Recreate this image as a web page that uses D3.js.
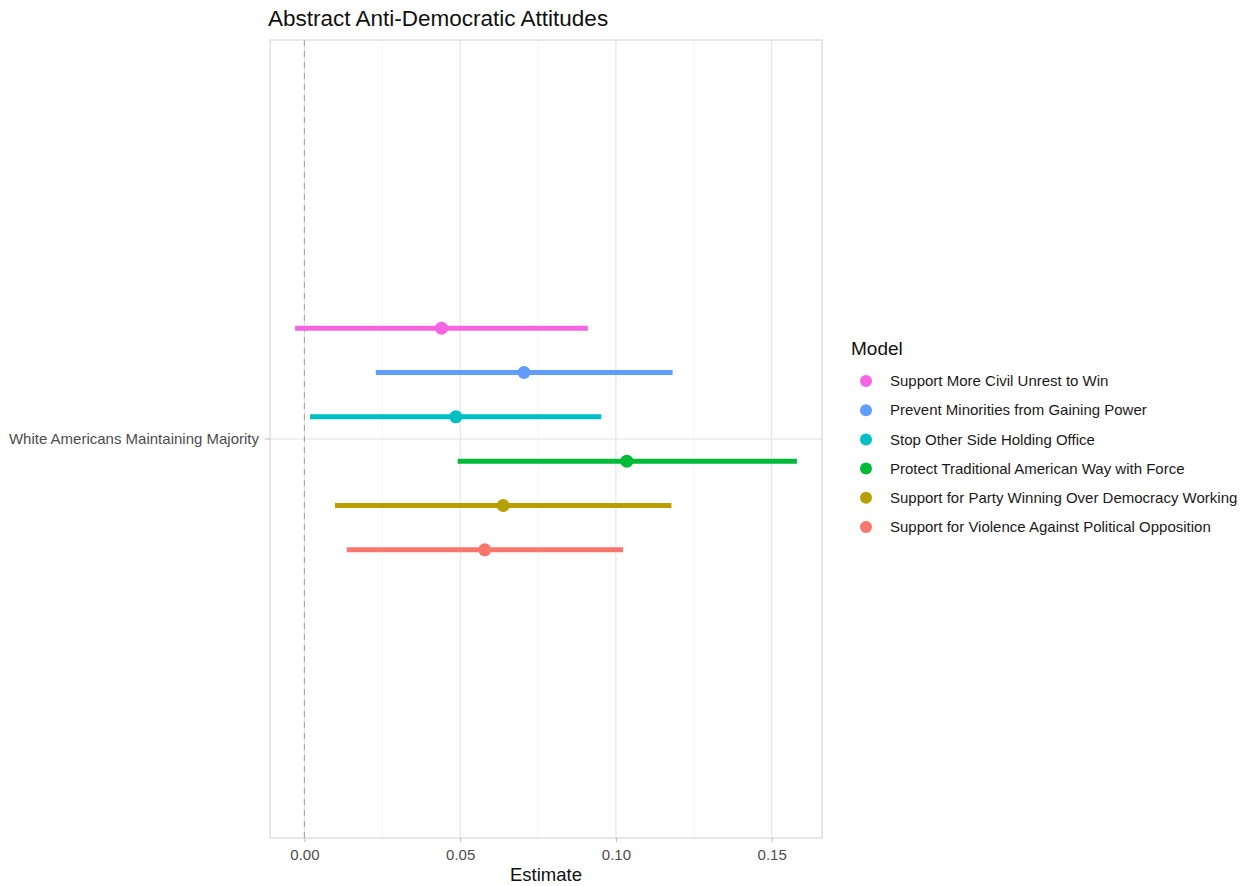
<!DOCTYPE html>
<html>
<head>
<meta charset="utf-8">
<script src="https://cdn.jsdelivr.net/npm/d3@7"></script>
<style>
  html, body { margin: 0; padding: 0; background: #fff; overflow: hidden; }
  svg { display: block; font-family: "Liberation Sans", Arial, sans-serif; }
</style>
</head>
<body>
<svg id="chart"></svg>
<script>
// data
const term = 'White Americans Maintaining Majority';
const models = [
  'Support for Violence Against Political Opposition',
  'Support for Party Winning Over Democracy Working',
  'Protect Traditional American Way with Force',
  'Stop Other Side Holding Office',
  'Prevent Minorities from Gaining Power',
  'Support More Civil Unrest to Win'
];
const estimates = [0.0579, 0.0638, 0.1035, 0.0486, 0.0705, 0.0440];
const lower = [0.0136, 0.0098, 0.0492, 0.0018, 0.0229, -0.0030];
const upper = [0.1023, 0.1178, 0.1581, 0.0953, 0.1182, 0.0910];
const colors = ['#F8766D', '#B79F00', '#00BA38', '#00BFC4', '#619CFF', '#F564E3'];
const xTicks = [0, 0.05, 0.10, 0.15];

const width = 1248, height = 886;
const margin = {top: 40, right: 426, bottom: 48, left: 270};//panel box
const innerWidth = width - margin.left - margin.right;
const innerHeight = height - margin.top - margin.bottom;

const svg = d3.select('#chart').attr('width', width).attr('height', height);

svg.append('text')
  .attr('x', 268).attr('y', 26)
  .attr('font-size', 22.5).attr('fill', '#111')
  .text('Abstract Anti-Democratic Attitudes');

const g = svg.append('g').attr('transform', `translate(${margin.left},${margin.top})`);

// x domain with ggplot's 5% expansion
const lo = d3.min(lower), hi = d3.max(upper), pad = (hi - lo) * 0.05;
const x = d3.scaleLinear().domain([lo - pad, hi + pad]).range([0, innerWidth]);

// one discrete category, expanded 0.6 each side
const y = d3.scaleLinear().domain([0.4, 1.6]).range([innerHeight, 0]);
const dodge = d3.scaleBand().domain(d3.range(models.length)).range([y(1) + 0.2 * (y(0) - y(1)), y(1) - 0.2 * (y(0) - y(1))]);
const yPos = i => dodge(i) + dodge.bandwidth() / 2;

// grid
const minor = d3.range(-0.025, 0.2, 0.05).filter(v => x(v) > 0 && x(v) < innerWidth);
g.selectAll('.minor').data(minor).enter().append('line')
  .attr('x1', d => x(d)).attr('x2', d => x(d))
  .attr('y1', 0).attr('y2', innerHeight)
  .attr('stroke', '#ececec').attr('stroke-width', 0.6);
g.selectAll('.major').data(xTicks).enter().append('line')
  .attr('x1', d => x(d)).attr('x2', d => x(d))
  .attr('y1', 0).attr('y2', innerHeight)
  .attr('stroke', '#e0e0e0').attr('stroke-width', 1);
g.append('line')
  .attr('x1', 0).attr('x2', innerWidth)
  .attr('y1', y(1)).attr('y2', y(1))
  .attr('stroke', '#e0e0e0').attr('stroke-width', 1);

// zero reference
g.append('line')
  .attr('x1', x(0)).attr('x2', x(0))
  .attr('y1', 0).attr('y2', innerHeight)
  .attr('stroke', '#a8a8a8').attr('stroke-width', 1.2)
  .attr('stroke-dasharray', '6,5');

// panel border
g.append('rect')
  .attr('width', innerWidth).attr('height', innerHeight)
  .attr('fill', 'none').attr('stroke', '#cfcfcf').attr('stroke-width', 1);

// axes
const xAxis = g.append('g').attr('transform', `translate(0,${innerHeight})`)
  .call(d3.axisBottom(x).tickValues(xTicks).tickFormat(d3.format('.2f')).tickSize(4).tickPadding(7));
xAxis.select('.domain').remove();
xAxis.selectAll('line').attr('stroke', '#bbb');
xAxis.selectAll('text').attr('font-size', 15).attr('fill', '#4d4d4d').attr('font-family', '"Liberation Sans", Arial, sans-serif');

g.append('line')
  .attr('x1', -5).attr('x2', 0).attr('y1', y(1)).attr('y2', y(1))
  .attr('stroke', '#bbb');
g.append('text')
  .attr('x', -11).attr('y', y(1)).attr('dy', '0.35em')
  .attr('text-anchor', 'end').attr('font-size', 15).attr('fill', '#4d4d4d')
  .text(term);

svg.append('text')
  .attr('x', margin.left + innerWidth / 2).attr('y', 881)
  .attr('text-anchor', 'middle').attr('font-size', 18.5).attr('fill', '#111')
  .text('Estimate');

// intervals and points
const rows = models.map((m, i) => ({m, i, est: estimates[i], lo: lower[i], hi: upper[i], c: colors[i]}));
g.selectAll('.ci').data(rows).enter().append('line')
  .attr('x1', d => x(d.lo)).attr('x2', d => x(d.hi))
  .attr('y1', d => yPos(d.i)).attr('y2', d => yPos(d.i))
  .attr('stroke', d => d.c).attr('stroke-width', 5);
g.selectAll('.pt').data(rows).enter().append('circle')
  .attr('cx', d => x(d.est)).attr('cy', d => yPos(d.i))
  .attr('r', 6.5).attr('fill', d => d.c);

// legend (reversed order)
const legend = svg.append('g').attr('transform', 'translate(851,0)');
legend.append('text').attr('x', 0).attr('y', 355)
  .attr('font-size', 19).attr('fill', '#111').text('Model');
const items = rows.slice().reverse();
const lg = legend.selectAll('.item').data(items).enter().append('g')
  .attr('transform', (d, k) => `translate(0,${381 + k * 29.2})`);
lg.append('circle').attr('cx', 15).attr('cy', 0).attr('r', 6).attr('fill', d => d.c);
lg.append('text').attr('x', 39).attr('y', 0).attr('dy', '0.35em')
  .attr('font-size', 15).attr('fill', '#1a1a1a').text(d => d.m);
</script>
</body>
</html>
